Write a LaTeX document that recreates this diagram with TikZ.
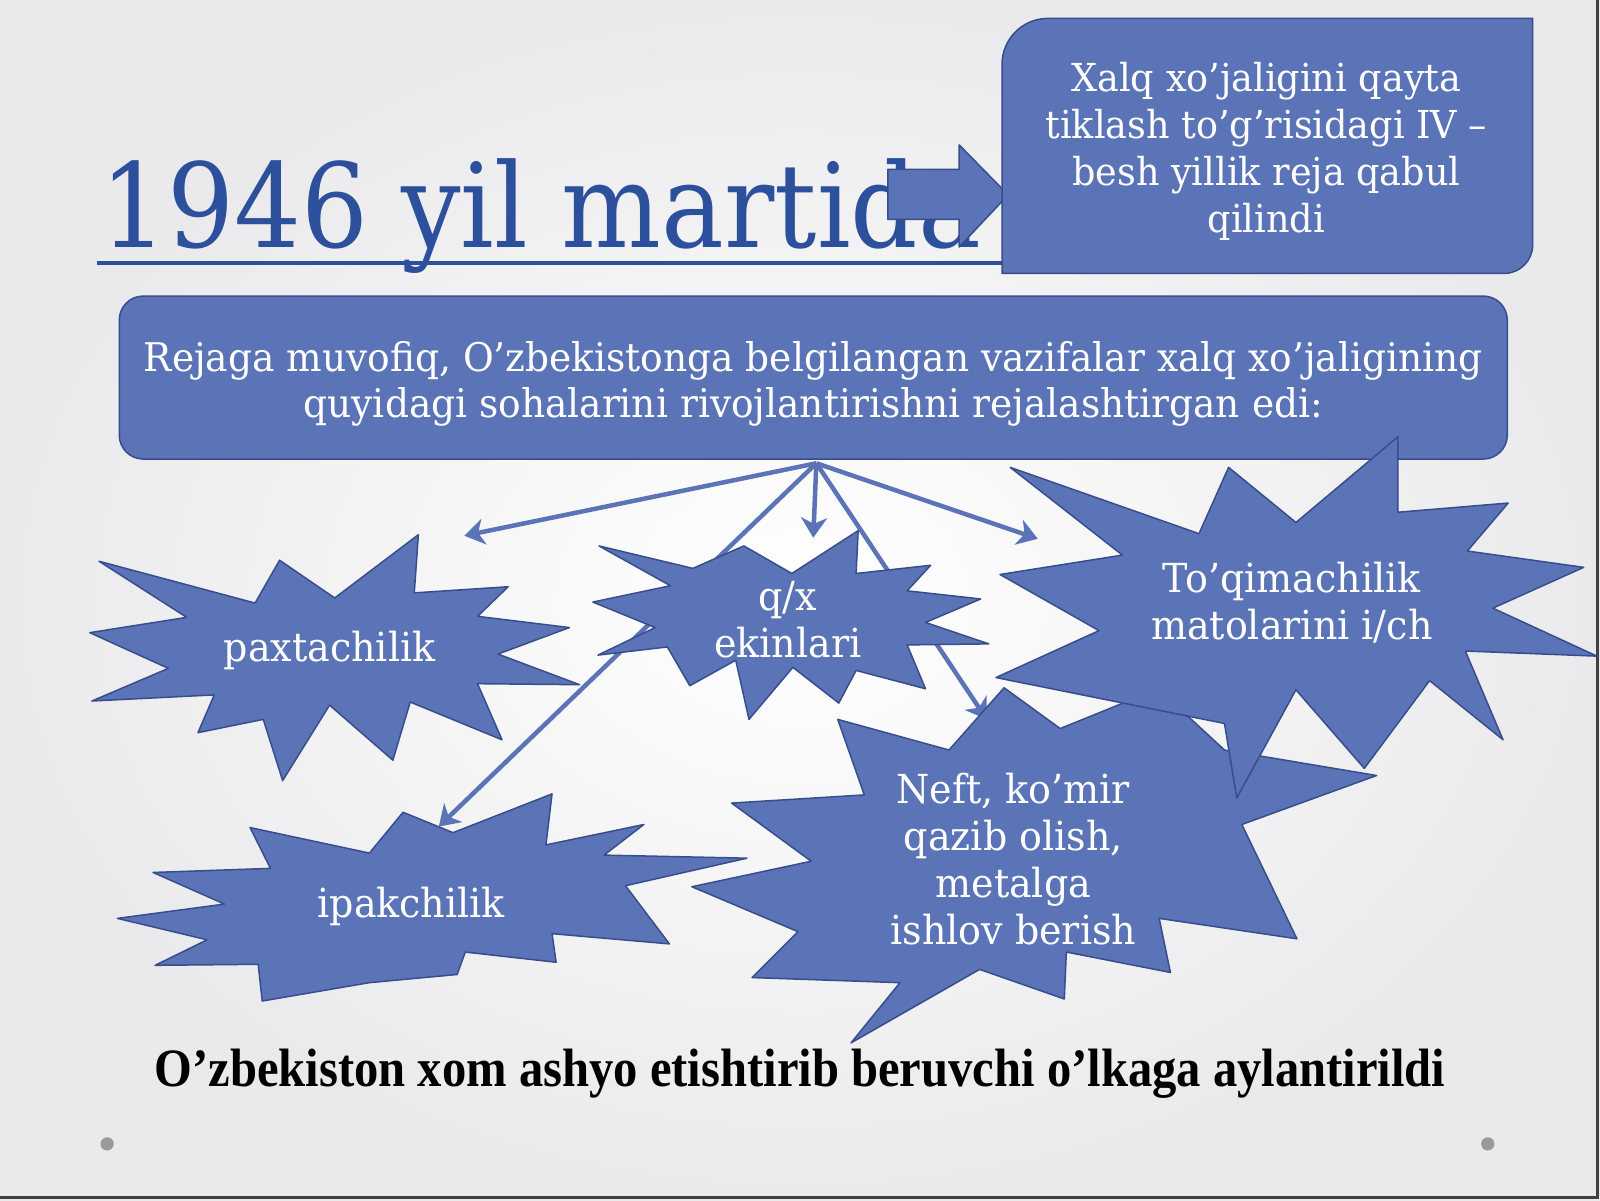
\documentclass[tikz,border=0pt]{standalone}
\usepackage{fontspec}
\newfontfamily\slidefont[FakeStretch=0.95]{DejaVu Serif}
\newfontfamily\headfont[FakeStretch=0.9]{DejaVu Serif}
\newfontfamily\closingfont[FakeStretch=0.9]{Liberation Serif}
\usepackage{tikz}
\usetikzlibrary{positioning}
\usetikzlibrary{arrows.meta}
\pgfdeclarelayer{bglayer}
\pgfdeclarelayer{edgelayer}
\pgfdeclarelayer{nodelayer}
\pgfsetlayers{bglayer,edgelayer,nodelayer,main}
\definecolor{burstblue}{RGB}{90,116,183}
\definecolor{burstedge}{RGB}{56,78,140}
\definecolor{titleblue}{RGB}{44,80,156}
\definecolor{slidegray}{RGB}{234,234,236}
\tikzset{
    burst/.style = {fill=burstblue, draw=burstedge, line width=1.5pt, line join=round},
    bursttext/.style = {text=white, align=center, inner sep=0pt,
        font=\slidefont\fontsize{40}{47}\selectfont},
    planbox/.style = {fill=burstblue, draw=burstedge, line width=1.5pt, rounded corners=24pt},
    feed/.style = {draw=burstblue, line width=4.5pt,
        -{Stealth[length=20pt, width=26pt, inset=6pt]}}
}

\begin{document}
\begin{tikzpicture}[x=1.0204pt, y=-1.0204pt]
  \useasboundingbox (0,0) rectangle (1568,1176);
  \begin{pgfonlayer}{bglayer}
    \shade [inner color=white, outer color=slidegray] (0,0) rectangle (1568,1176);
    \draw [black!75, line width=3pt] (1566,0) -- (1566,1174) -- (0,1174);
    \fill [gray!80] (105,1121) circle (6.5);
    \fill [gray!80] (1458,1121) circle (6.5);
  \end{pgfonlayer}

  % title
  \node [anchor=base west, inner sep=0pt, text=titleblue,
         font=\headfont\fontsize{117}{120}\selectfont] (title) at (98,243) {1946 yil martida};
  \draw [titleblue, line width=4pt] (95,258) -- (1000,258);
  \draw [burst] (870,166) -- (940,166) -- (940,142) -- (988,191) -- (940,242) -- (940,215) -- (870,215) -- cycle;

  % decree box
  \draw [burst] (982,268) -- (982,63) arc [start angle=180, end angle=270, radius=45]
    -- (1502,18) -- (1502,240) arc [start angle=0, end angle=90, radius=28] -- cycle;
  \node [bursttext, font=\slidefont\fontsize{38.5}{47}\selectfont] (decree) at (1241,148)
    {Xalq xo’jaligini qayta\\tiklash to’g’risidagi IV –\\besh yillik reja qabul\\qilindi};

  % plan box
  \begin{pgfonlayer}{edgelayer}
    \node [planbox, minimum width=1388pt, minimum height=163pt] (plan) at (797,370) {};
  \end{pgfonlayer}
  \node [bursttext, font=\slidefont\fontsize{39.5}{46}\selectfont] (plantext) at (797,376)
    {Rejaga muvofiq, O’zbekistonga belgilangan vazifalar xalq xo’jaligining\\
     quyidagi sohalarini rivojlantirishni rejalashtirgan edi:};

  \coordinate (hub) at (800,454);
  \coordinate (toPaxta) at (455,525);
  \coordinate (toQx) at (797,527);
  \coordinate (toToq) at (1017,528);
  \coordinate (toNeft) at (967,705);
  \coordinate (toIpak) at (430,810);

  \begin{pgfonlayer}{edgelayer}
    \draw [feed] (hub) -- (toPaxta);
    \draw [feed] (hub) -- (toQx);
    \draw [feed] (hub) -- (toToq);
    \draw [feed] (hub) -- (toNeft);
    \draw [feed] (hub) -- (toIpak);
  \end{pgfonlayer}

  \begin{pgfonlayer}{nodelayer}
    % paxtachilik
    \draw [burst] plot coordinates {(97,550) (250,591) (274,549) (328,586) (410,524) (406,581)
      (498,575) (468,604) (558,615) (488,641) (568,671) (468,670) (492,725) (402,688)
      (385,745) (323,691) (277,765) (258,705) (194,718) (210,681) (90,687) (165,655)
      (88,620) (183,605)} -- cycle;
    % q/x ekinlari
    \draw [burst] plot coordinates {(587,535) (679,557) (729,535) (776,562) (841,520) (839,562)
      (912,554) (889,579) (961,587) (907,610) (969,631) (889,632) (907,675) (839,657)
      (822,689) (777,654) (734,705) (721,647) (676,672) (654,634) (586,642) (642,615)
      (581,590) (657,574)} -- cycle;
    % ipakchilik
    \draw [burst] plot coordinates {(245,811) (362,836) (395,796) (444,816) (541,778) (535,828)
      (631,808) (592,838) (732,841) (613,868) (656,925) (541,915) (545,943) (456,933)
      (448,955) (362,963) (257,981) (253,945) (152,946) (203,921) (115,900) (220,886)
      (150,855) (265,851)} -- cycle;
    % neft
    \draw [burst] plot coordinates {(821,705) (930,735) (984,674) (1039,714) (1135,675) (1200,735)
      (1349,760) (1217,808) (1271,920) (1136,900) (1147,953) (1045,933) (1043,979)
      (960,950) (834,1022) (882,963) (737,958) (782,913) (678,869) (795,844) (717,787)
      (847,779)} -- cycle;
    % toqimachilik
    \draw [burst] plot coordinates {(990,458) (1175,523) (1204,458) (1270,512) (1370,428)
      (1370,502) (1478,493) (1438,540) (1552,556) (1463,596) (1565,643) (1436,638)
      (1473,725) (1401,667) (1337,753) (1270,676) (1212,782) (1200,709) (976,664)
      (1077,618) (980,563) (1100,544)} -- cycle;
  \end{pgfonlayer}

  \node [bursttext] (paxta) at (323,637) {paxtachilik};
  \node [bursttext] (qx) at (772,607) {q/x\\ekinlari};
  \node [bursttext] (toq) at (1266,591) {To’qimachilik\\matolarini i/ch};
  \node [bursttext] (neft) at (993,842) {Neft, ko’mir\\qazib olish,\\metalga\\ishlov berish};
  \node [bursttext] (ipak) at (403,888) {ipakchilik};

  % closing line
  \node [inner sep=0pt, font=\closingfont\bfseries\fontsize{54}{60}\selectfont]
    (verdict) at (784,1052) {O’zbekiston xom ashyo etishtirib beruvchi o’lkaga aylantirildi};
\end{tikzpicture}
\end{document}
